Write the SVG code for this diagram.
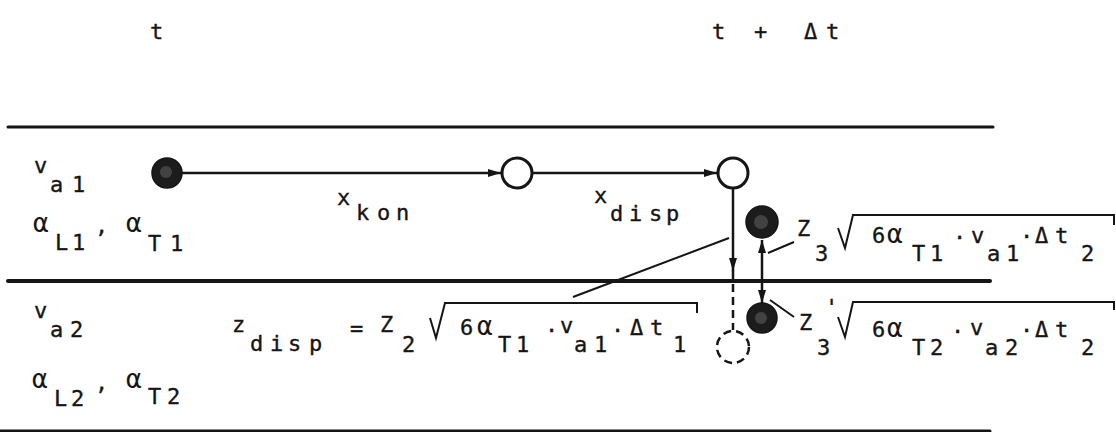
<svg xmlns="http://www.w3.org/2000/svg" width="1116" height="432" viewBox="0 0 1116 432">
<defs>
<style>
.t{font-family:"DejaVu Sans Mono","Liberation Mono",monospace;font-size:22px;fill:#151515;stroke:#151515;stroke-width:0.35}
.al{font-size:26px;stroke-width:0.1}
.layer{stroke:#151515;fill:none;stroke-linecap:round}
.con{stroke:#151515;stroke-width:2.5;fill:none}
.lead{stroke:#151515;stroke-width:2;fill:none}
.open{fill:#fff;stroke:#151515;stroke-width:3}
.full{fill:#1c1c1c;stroke:#151515;stroke-width:1.5}
.spot{fill:#8a8a8a;opacity:0.35}
.dash{fill:none;stroke:#151515;stroke-width:2.5;stroke-dasharray:8 5}
.rad{fill:none;stroke:#151515;stroke-width:2}
</style>
<marker id="ah" markerUnits="userSpaceOnUse" markerWidth="13" markerHeight="8" refX="13" refY="4" orient="auto">
<path d="M0,0 L13,4 L0,8 z" fill="#151515"/>
</marker>
</defs>
<rect width="1116" height="432" fill="#fff"/>

<g id="layers">
<path class="layer" d="M8 127 H993" stroke-width="3"/>
<path class="layer" d="M8 281 H990" stroke-width="4"/>
<path class="layer" d="M0 431 H990" stroke-width="3"/>
</g>

<g id="time-labels">
<text class="t" x="150" y="39">t</text>
<text class="t" x="712 754 804 826" y="39">t+Δt</text>
</g>

<g id="layer1-labels">
<text class="t" x="34" y="173">v</text>
<text class="t" x="50 72" y="192">a1</text>
<text class="t al" x="33" y="232">α</text>
<text class="t" x="55 72" y="250">L1</text>
<text class="t" x="95" y="233">,</text>
<text class="t al" x="126" y="232">α</text>
<text class="t" x="148 170" y="251">T1</text>
</g>

<g id="layer2-labels">
<text class="t" x="34" y="318">v</text>
<text class="t" x="50 70" y="337">a2</text>
<text class="t al" x="32" y="388">α</text>
<text class="t" x="54 71" y="406">L2</text>
<text class="t" x="95" y="390">,</text>
<text class="t al" x="126" y="388">α</text>
<text class="t" x="148 167" y="404">T2</text>
</g>

<g id="connectors">
<path class="con" d="M182 173 H501" marker-end="url(#ah)"/>
<path class="con" d="M533 173 H717" marker-end="url(#ah)"/>
<path class="con" d="M733 189 V271" marker-end="url(#ah)"/>
<path class="con" d="M733 270 V282"/>
<path class="dash" d="M733 284 V330"/>
<path class="con" d="M762 281 V240" marker-end="url(#ah)"/>
<path class="con" d="M762 281 V303" marker-end="url(#ah)"/>
<path class="lead" d="M573 297 L729 238"/>
<path class="lead" d="M768 253 L794 242"/>
<path class="lead" d="M770 300 L794 317"/>
</g>

<g id="node-start"><circle class="full" cx="167" cy="173" r="15"/><circle class="spot" cx="166" cy="172" r="6"/></g>
<g id="node-kon"><circle class="open" cx="517" cy="173" r="15"/></g>
<g id="node-disp"><circle class="open" cx="733" cy="173" r="15"/></g>
<g id="node-dispz"><circle class="dash" cx="733" cy="347" r="16"/></g>
<g id="node-upper"><circle class="full" cx="762" cy="222" r="16"/><circle class="spot" cx="761" cy="222" r="7"/></g>
<g id="node-lower"><circle class="full" cx="762" cy="318" r="15"/><circle class="spot" cx="761" cy="318" r="6"/></g>

<g id="label-xkon">
<text class="t" x="337" y="205">x</text>
<text class="t" x="356 377 396" y="220">kon</text>
</g>
<g id="label-xdisp">
<text class="t" x="594" y="203">x</text>
<text class="t" x="610 629 649 666" y="221">disp</text>
</g>

<g id="formula-zdisp">
<text class="t" x="232" y="332">z</text>
<text class="t" x="250 270 288 309" y="351">disp</text>
<text class="t" x="350" y="336">=</text>
<text class="t" x="380" y="332">Z</text>
<text class="t" x="402" y="352">2</text>
<path class="rad" d="M430 318 L436 338 L445 303 H697 V313"/>
<text class="t" x="460" y="335">6</text>
<text class="t al" x="477" y="335">α</text>
<text class="t" x="498 516" y="352">T1</text>
<text class="t" x="545" y="338">·</text>
<text class="t" x="560" y="333">v</text>
<text class="t" x="574 594" y="352">a1</text>
<text class="t" x="611" y="338">·</text>
<text class="t" x="630 650" y="335">Δt</text>
<text class="t" x="673" y="352">1</text>
</g>

<g id="formula-z3">
<text class="t" x="797" y="236">Z</text>
<text class="t" x="815" y="261">3</text>
<path class="rad" d="M838 228 L845 248 L853 215 H1114 V225"/>
<text class="t" x="872" y="243">6</text>
<text class="t al" x="887" y="243">α</text>
<text class="t" x="912 930" y="261">T1</text>
<text class="t" x="953" y="245">·</text>
<text class="t" x="971" y="243">v</text>
<text class="t" x="987 1006" y="261">a1</text>
<text class="t" x="1020" y="244">·</text>
<text class="t" x="1035 1055" y="243">Δt</text>
<text class="t" x="1081" y="261">2</text>
</g>

<g id="formula-z3p">
<text class="t" x="799" y="330">Z</text>
<text class="t" x="825" y="315">'</text>
<text class="t" x="817" y="355">3</text>
<path class="rad" d="M838 317 L845 337 L853 302 H1114 V310"/>
<text class="t" x="872" y="337">6</text>
<text class="t al" x="887" y="337">α</text>
<text class="t" x="912 930" y="355">T2</text>
<text class="t" x="951" y="339">·</text>
<text class="t" x="970" y="335">v</text>
<text class="t" x="985 1005" y="355">a2</text>
<text class="t" x="1020" y="338">·</text>
<text class="t" x="1035 1055" y="337">Δt</text>
<text class="t" x="1081" y="355">2</text>
</g>
</svg>
